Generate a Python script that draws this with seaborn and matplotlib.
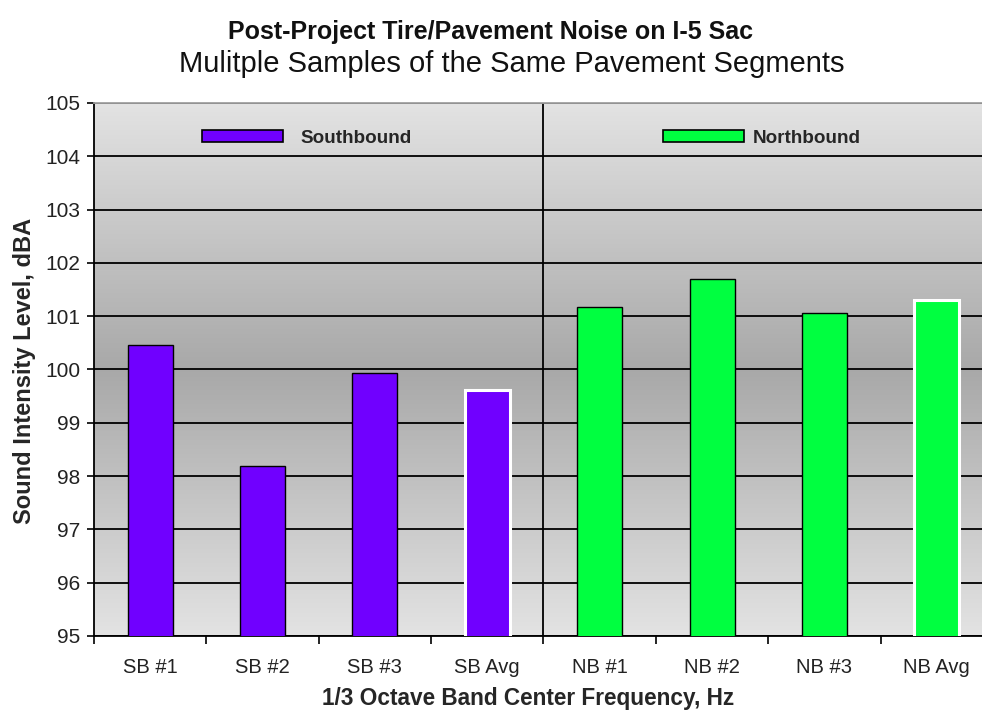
import numpy as np
import matplotlib.pyplot as plt
import seaborn as sns
from matplotlib.patches import Patch
from matplotlib.ticker import MultipleLocator

# Data
categories = ["SB #1", "SB #2", "SB #3", "SB Avg", "NB #1", "NB #2", "NB #3", "NB Avg"]
levels = [100.46, 98.18, 99.94, 99.62, 101.18, 101.69, 101.06, 101.30]
direction = ["Southbound"] * 4 + ["Northbound"] * 4
is_avg = [False, False, False, True, False, False, False, True]

sb_color = "#7000FF"
nb_color = "#00FF40"
bar_colors = [sb_color if d == "Southbound" else nb_color for d in direction]

sns.set_theme(style="white")
plt.rcParams['font.family'] = ['Liberation Sans', 'DejaVu Sans']

fig = plt.figure(figsize=(9.82, 7.17), dpi=100)
ax = fig.add_axes([0.0957, 0.113, 0.9155, 0.7434])

# Background gradient: light at top and bottom, darker in the middle
t = np.linspace(0, 1, 256)
shade = 0.89 - 0.23 * (1 - np.abs(2 * t - 1))
grad = np.repeat(shade[:, None], 3, axis=1)[:, None, :]
ax.imshow(grad, extent=[0, 1, 0, 1], transform=ax.transAxes, aspect='auto', zorder=0)

sns.barplot(x=categories, y=levels, hue=categories, palette=bar_colors, legend=False,
            width=0.4, saturation=1, ax=ax, zorder=3)

for patch, avg in zip(ax.patches, is_avg):
    if avg:
        patch.set_edgecolor('white')
        patch.set_linewidth(2.2)
    else:
        patch.set_edgecolor('black')
        patch.set_linewidth(1.0)

ax.set_ylim(95, 105)
ax.set_xlim(-0.5, 7.5)
ax.yaxis.set_major_locator(MultipleLocator(1))
ax.set_axisbelow(True)
ax.grid(axis='y', color='black', linewidth=1.3)
ax.grid(axis='x', visible=False)
ax.axvline(3.5, color='black', linewidth=1.3, zorder=1)

# x ticks at category boundaries, labels centred
ax.set_xticks(np.arange(-0.5, 8, 1), minor=True)
ax.tick_params(axis='x', which='minor', bottom=True, length=6, width=1.2, color='black', direction='out')
ax.tick_params(axis='x', which='major', length=0, pad=16, labelsize=14.5, labelcolor='#222222')
ax.tick_params(axis='y', left=True, length=5, width=1.2, color='black', direction='out',
               pad=5, labelsize=15, labelcolor='#222222')

for side in ['left', 'bottom']:
    ax.spines[side].set_color('black')
    ax.spines[side].set_linewidth(1.3)
ax.spines['top'].set_color('#a0a0a0')
ax.spines['top'].set_linewidth(1.3)
ax.spines['right'].set_visible(False)

ax.set_xlabel('1/3 Octave Band Center Frequency, Hz', fontsize=16.3, fontweight='bold')
ax.set_ylabel('Sound Intensity Level, dBA', fontsize=17, fontweight='bold')
ax.xaxis.set_label_coords(0.483, -0.096)
ax.yaxis.set_label_coords(-0.064, 0.497)

# Legends
sb_handle = [Patch(facecolor=sb_color, edgecolor='black', linewidth=1.2, label='Southbound')]
nb_handle = [Patch(facecolor=nb_color, edgecolor='black', linewidth=1.2, label='Northbound')]
leg1 = ax.legend(handles=sb_handle, loc='center left', bbox_to_anchor=(0.120, 0.934),
                 frameon=False, borderpad=0, borderaxespad=0, handlelength=4.3,
                 handleheight=0.55, handletextpad=0.9, prop={'weight': 'bold', 'size': 13.6})
ax.add_artist(leg1)
ax.legend(handles=nb_handle, loc='center left', bbox_to_anchor=(0.633, 0.934),
          frameon=False, borderpad=0, borderaxespad=0, handlelength=4.3,
          handleheight=0.55, handletextpad=0.45, prop={'weight': 'bold', 'size': 13.6})

fig.text(0.499, 0.956, 'Post-Project Tire/Pavement Noise on I-5 Sac', ha='center', va='center',
         fontsize=18, fontweight='bold', color='#111111')
fig.text(0.521, 0.911, 'Mulitple Samples of the Same Pavement Segments', ha='center', va='center',
         fontsize=21, color='#111111')

fig.savefig('out.png', dpi=100)
